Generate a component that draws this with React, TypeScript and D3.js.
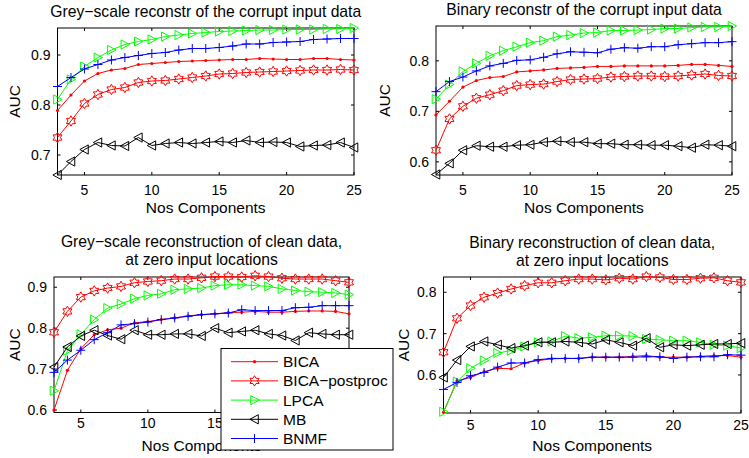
import React, { useEffect, useRef } from 'react';
import * as d3 from 'd3';

const components = [3, 4, 5, 6, 7, 8, 9, 10, 11, 12, 13, 14, 15, 16, 17, 18, 19, 20, 21, 22, 23, 24, 25];
const xTickValues = [5, 10, 15, 20, 25];
const seriesNames = ['BICA', 'BICA\u2212postproc', 'LPCA', 'MB', 'BNMF'];

// Grey-scale reconstr of the corrupt input data
const greyCorruptBICA = [0.789, 0.820, 0.848, 0.863, 0.870, 0.873, 0.881, 0.883, 0.885, 0.887, 0.888, 0.889, 0.890, 0.891, 0.891, 0.893, 0.892, 0.891, 0.891, 0.893, 0.893, 0.891, 0.890];
const greyCorruptPost = [0.735, 0.768, 0.803, 0.821, 0.831, 0.835, 0.845, 0.848, 0.849, 0.852, 0.855, 0.858, 0.862, 0.863, 0.865, 0.866, 0.867, 0.868, 0.869, 0.870, 0.870, 0.871, 0.870];
const greyCorruptLPCA = [0.811, 0.851, 0.877, 0.895, 0.910, 0.921, 0.927, 0.931, 0.937, 0.940, 0.943, 0.945, 0.947, 0.948, 0.949, 0.950, 0.950, 0.951, 0.951, 0.951, 0.952, 0.952, 0.954];
const greyCorruptMB = [0.660, 0.687, 0.711, 0.725, 0.719, 0.718, 0.735, 0.719, 0.723, 0.725, 0.723, 0.725, 0.727, 0.725, 0.729, 0.725, 0.726, 0.725, 0.717, 0.719, 0.720, 0.725, 0.715];
const greyCorruptBNMF = [0.837, 0.855, 0.872, 0.881, 0.890, 0.895, 0.899, 0.903, 0.905, 0.910, 0.913, 0.913, 0.915, 0.918, 0.922, 0.922, 0.925, 0.926, 0.927, 0.931, 0.932, 0.933, 0.933];

// Binary reconstr of the corrupt input data
const binCorruptBICA = [0.693, 0.720, 0.748, 0.761, 0.767, 0.769, 0.778, 0.780, 0.782, 0.785, 0.786, 0.787, 0.789, 0.789, 0.790, 0.790, 0.790, 0.790, 0.791, 0.793, 0.793, 0.791, 0.789];
const binCorruptPost = [0.623, 0.685, 0.710, 0.726, 0.733, 0.741, 0.751, 0.753, 0.754, 0.759, 0.763, 0.764, 0.765, 0.768, 0.769, 0.770, 0.770, 0.769, 0.770, 0.772, 0.774, 0.771, 0.770];
const binCorruptLPCA = [0.724, 0.753, 0.779, 0.795, 0.810, 0.820, 0.828, 0.836, 0.840, 0.848, 0.851, 0.855, 0.856, 0.860, 0.860, 0.861, 0.862, 0.864, 0.864, 0.866, 0.867, 0.867, 0.869];
const binCorruptMB = [0.575, 0.597, 0.623, 0.632, 0.630, 0.630, 0.633, 0.634, 0.639, 0.641, 0.639, 0.639, 0.636, 0.636, 0.634, 0.634, 0.633, 0.633, 0.631, 0.628, 0.634, 0.633, 0.631];
const binCorruptBNMF = [0.739, 0.759, 0.768, 0.780, 0.790, 0.795, 0.801, 0.802, 0.807, 0.814, 0.818, 0.817, 0.816, 0.823, 0.826, 0.825, 0.828, 0.828, 0.832, 0.834, 0.836, 0.836, 0.838];

// Grey-scale reconstruction of clean data, at zero input locations
const greyCleanBICA = [0.600, 0.697, 0.750, 0.784, 0.796, 0.800, 0.813, 0.816, 0.821, 0.825, 0.830, 0.833, 0.835, 0.838, 0.839, 0.841, 0.839, 0.839, 0.841, 0.842, 0.842, 0.841, 0.835];
const greyCleanPost = [0.790, 0.841, 0.876, 0.891, 0.898, 0.902, 0.911, 0.914, 0.916, 0.920, 0.920, 0.923, 0.926, 0.926, 0.925, 0.928, 0.926, 0.922, 0.920, 0.920, 0.920, 0.916, 0.912];
const greyCleanLPCA = [0.647, 0.745, 0.785, 0.821, 0.849, 0.859, 0.872, 0.880, 0.884, 0.894, 0.896, 0.898, 0.904, 0.906, 0.906, 0.904, 0.902, 0.896, 0.892, 0.889, 0.888, 0.886, 0.882];
const greyCleanMB = [0.705, 0.754, 0.781, 0.795, 0.782, 0.773, 0.795, 0.784, 0.784, 0.786, 0.786, 0.781, 0.800, 0.789, 0.792, 0.795, 0.786, 0.782, 0.770, 0.789, 0.786, 0.784, 0.784];
const greyCleanBNMF = [0.692, 0.722, 0.746, 0.772, 0.789, 0.808, 0.811, 0.815, 0.821, 0.825, 0.829, 0.833, 0.835, 0.837, 0.845, 0.843, 0.843, 0.843, 0.850, 0.851, 0.855, 0.855, 0.855];

// Binary reconstruction of clean data, at zero input locations
const binCleanBICA = [0.510, 0.586, 0.594, 0.608, 0.616, 0.615, 0.629, 0.635, 0.639, 0.640, 0.640, 0.643, 0.643, 0.643, 0.645, 0.647, 0.643, 0.643, 0.643, 0.645, 0.647, 0.647, 0.643];
const binCleanPost = [0.655, 0.737, 0.768, 0.788, 0.798, 0.808, 0.816, 0.823, 0.823, 0.828, 0.832, 0.832, 0.830, 0.834, 0.832, 0.838, 0.836, 0.831, 0.831, 0.834, 0.835, 0.828, 0.824];
const binCleanLPCA = [0.511, 0.584, 0.616, 0.635, 0.653, 0.659, 0.669, 0.679, 0.681, 0.694, 0.689, 0.691, 0.695, 0.695, 0.694, 0.687, 0.685, 0.683, 0.683, 0.679, 0.673, 0.671, 0.665];
const binCleanMB = [0.594, 0.636, 0.669, 0.681, 0.673, 0.665, 0.671, 0.679, 0.679, 0.681, 0.679, 0.675, 0.685, 0.679, 0.671, 0.689, 0.667, 0.673, 0.671, 0.673, 0.675, 0.675, 0.677];
const binCleanBNMF = [0.565, 0.582, 0.598, 0.606, 0.619, 0.629, 0.629, 0.637, 0.640, 0.640, 0.640, 0.643, 0.643, 0.643, 0.643, 0.644, 0.644, 0.640, 0.643, 0.644, 0.644, 0.649, 0.648];

const FONT = '"Liberation Sans", Arial, Helvetica, sans-serif';

const styles = [
    { color: '#ff0000', marker: 'dot' },
    { color: '#ff0000', marker: 'hexagram' },
    { color: '#00ff00', marker: 'triRight' },
    { color: '#000000', marker: 'triLeft' },
    { color: '#0000ff', marker: 'plus' },
];

const panels = [
    {
        title: ['Grey\u2212scale reconstr of the corrupt input data'], titleY: [17],
        series: [greyCorruptBICA, greyCorruptPost, greyCorruptLPCA, greyCorruptMB, greyCorruptBNMF],
        yTicks: [0.7, 0.8, 0.9], yDomain: [0.66, 0.954],
        box: { l: 57.5, r: 354, t: 28, b: 175 }, xTickY: 195, xLabelY: 212.5, yLabelX: 20,
    },
    {
        title: ['Binary reconstr of the corrupt input data'], titleY: [15],
        series: [binCorruptBICA, binCorruptPost, binCorruptLPCA, binCorruptMB, binCorruptBNMF],
        yTicks: [0.6, 0.7, 0.8], yDomain: [0.574, 0.869],
        box: { l: 436, r: 732, t: 26, b: 175 }, xTickY: 195, xLabelY: 213, yLabelX: 390,
    },
    {
        title: ['Grey\u2212scale reconstruction of clean data,', 'at zero input locations'], titleY: [247, 265],
        series: [greyCleanBICA, greyCleanPost, greyCleanLPCA, greyCleanMB, greyCleanBNMF],
        yTicks: [0.6, 0.7, 0.8, 0.9], yDomain: [0.594, 0.925],
        box: { l: 54, r: 349, t: 277, b: 412.5 }, xTickY: 428, xLabelY: 451, yLabelX: 20,
    },
    {
        title: ['Binary reconstruction of clean data,', 'at zero input locations'], titleY: [248, 265.5],
        series: [binCleanBICA, binCleanPost, binCleanLPCA, binCleanMB, binCleanBNMF],
        yTicks: [0.6, 0.7, 0.8], yDomain: [0.508, 0.837],
        box: { l: 443.5, r: 741, t: 277, b: 413 }, xTickY: 430, xLabelY: 451, yLabelX: 408.5,
    },
];

const markerPath = (type: string): string => {
    if (type === 'hexagram') {
        const r = 5.2;
        const pts = d3.range(12).map(i => {
            const a = -Math.PI / 2 + i * Math.PI / 6;
            const rr = i % 2 === 0 ? r : r / Math.sqrt(3);
            return [rr * Math.cos(a), rr * Math.sin(a)];
        });
        return 'M' + pts.map(p => p.join(',')).join('L') + 'Z';
    }
    if (type === 'triRight') return 'M4.6,0L-3.8,-4.6L-3.8,4.6Z';
    if (type === 'triLeft') return 'M-4.6,0L3.8,-4.6L3.8,4.6Z';
    if (type === 'plus') return 'M-4.5,0H4.5M0,-4.5V4.5';
    return '';
};

const drawMarker = (g: any, type: string, color: string, x: number, y: number) => {
    if (type === 'dot') {
        g.append('circle').attr('cx', x).attr('cy', y).attr('r', 1.6).attr('fill', color);
    } else {
        g.append('path')
            .attr('d', markerPath(type))
            .attr('transform', `translate(${x},${y})`)
            .attr('fill', 'none')
            .attr('stroke', color)
            .attr('stroke-width', 1);
    }
};

const App = () => {
    const svgRef = useRef<SVGSVGElement>(null);

    useEffect(() => {
        const svg = d3.select(svgRef.current);
        svg.selectAll('*').remove();

        panels.forEach(p => {
            const { l, r, t, b } = p.box;
            const x = d3.scaleLinear().domain([3, 25]).range([l, r]);
            const y = d3.scaleLinear().domain(p.yDomain).range([b, t]);
            const g = svg.append('g');

            // ticks point inward, on all four sides
            xTickValues.forEach(v => {
                g.append('line').attr('x1', x(v)).attr('x2', x(v)).attr('y1', b).attr('y2', b - 3).attr('stroke', '#000');
                g.append('line').attr('x1', x(v)).attr('x2', x(v)).attr('y1', t).attr('y2', t + 3).attr('stroke', '#000');
                g.append('text').attr('x', x(v)).attr('y', p.xTickY).attr('text-anchor', 'middle')
                    .style('font', `14px ${FONT}`).text(String(v));
            });
            p.yTicks.forEach(v => {
                g.append('line').attr('x1', l).attr('x2', l + 3).attr('y1', y(v)).attr('y2', y(v)).attr('stroke', '#000');
                g.append('line').attr('x1', r).attr('x2', r - 3).attr('y1', y(v)).attr('y2', y(v)).attr('stroke', '#000');
                g.append('text').attr('x', l - 7).attr('y', y(v) + 5).attr('text-anchor', 'end')
                    .style('font', `14px ${FONT}`).text(d3.format('.1f')(v));
            });

            g.append('rect').attr('x', l).attr('y', t).attr('width', r - l).attr('height', b - t)
                .attr('fill', 'none').attr('stroke', '#000').attr('stroke-width', 1);

            const line = d3.line<number>()
                .x((d, i) => x(components[i]))
                .y(d => y(d));

            p.series.forEach((values, si) => {
                const st = styles[si];
                g.append('path').attr('d', line(values)).attr('fill', 'none')
                    .attr('stroke', st.color).attr('stroke-width', 1);
                values.forEach((v, i) => drawMarker(g, st.marker, st.color, x(components[i]), y(v)));
            });

            p.title.forEach((tl, i) => {
                g.append('text').attr('x', (l + r) / 2).attr('y', p.titleY[i]).attr('text-anchor', 'middle')
                    .style('font', `15.7px ${FONT}`).text(tl);
            });
            g.append('text').attr('x', (l + r) / 2).attr('y', p.xLabelY).attr('text-anchor', 'middle')
                .style('font', `15.5px ${FONT}`).text('Nos Components');
            g.append('text')
                .attr('transform', `translate(${p.yLabelX},${(t + b) / 2}) rotate(-90)`)
                .attr('text-anchor', 'middle')
                .style('font', `15.5px ${FONT}`).text('AUC');
        });

        // legend, drawn over the third panel
        const lg = svg.append('g');
        lg.append('rect').attr('x', 221).attr('y', 348.5).attr('width', 172).attr('height', 101.5)
            .attr('fill', '#fff').attr('stroke', '#000').attr('stroke-width', 1);
        seriesNames.forEach((name, i) => {
            const cy = 361.7 + i * 19.2;
            const st = styles[i];
            lg.append('line').attr('x1', 231).attr('x2', 278).attr('y1', cy).attr('y2', cy)
                .attr('stroke', st.color).attr('stroke-width', 1);
            drawMarker(lg, st.marker, st.color, 254.5, cy);
            lg.append('text').attr('x', 283).attr('y', cy + 5.5)
                .style('font', `15.5px ${FONT}`).text(name);
        });
    }, []);

    return (
        <svg ref={svgRef} width={749} height={458}
            style={{ position: 'absolute', left: 0, top: 0, background: '#fff' }}></svg>
    );
};

export default App;
